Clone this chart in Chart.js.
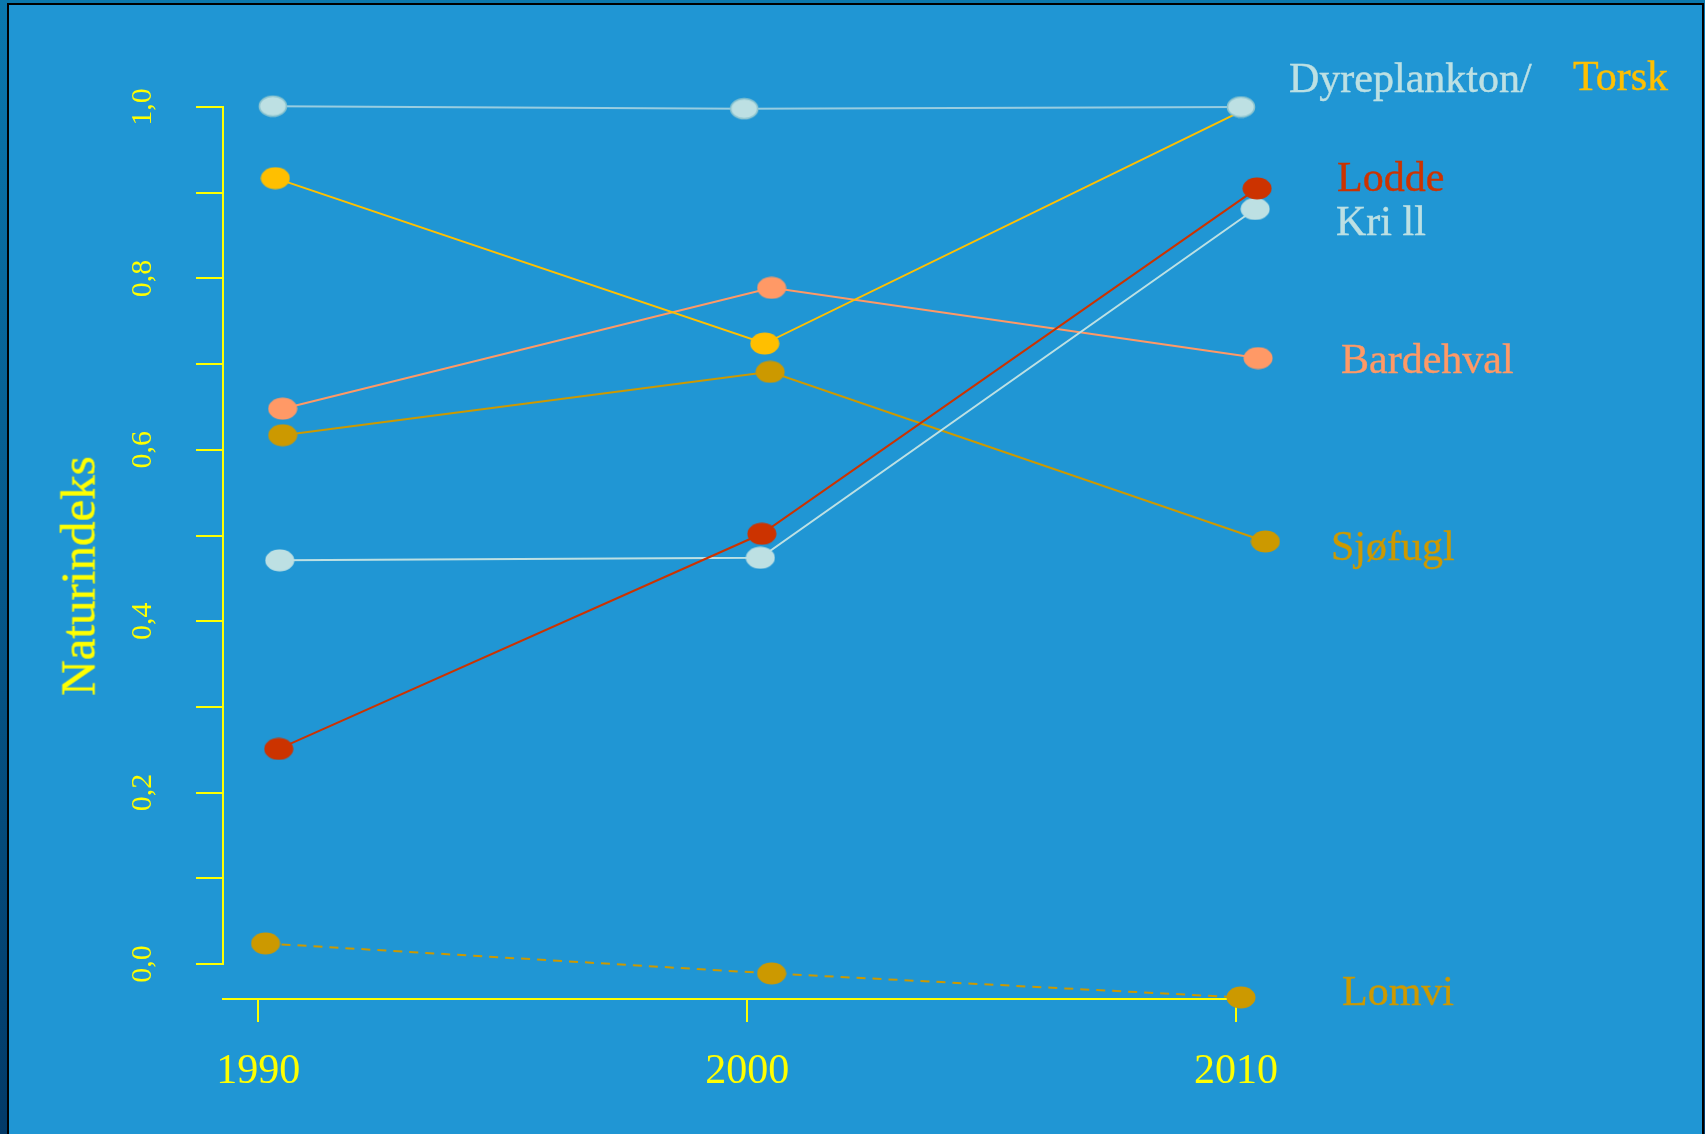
<!DOCTYPE html>
<html>
<head>
<meta charset="utf-8">
<script src="https://cdn.jsdelivr.net/npm/chart.js@4.4.1/dist/chart.umd.min.js"></script>
<style>
  html, body { margin: 0; padding: 0; width: 1705px; height: 1134px; overflow: hidden;
    background: linear-gradient(#0a78ae, #023a68); }
  #panel { position: absolute; left: 7px; top: 3px; width: 1693px; height: 1140px;
    border: 2px solid #000; border-bottom: none; background: #2096d4; }
  #c { position: absolute; left: 0; top: 0; }
  .lbl { position: absolute; font-family: "Liberation Serif", serif; font-size: 42px;
    line-height: 42px; white-space: pre; -webkit-text-stroke: 0.4px currentColor; }
  #ytitle { position: absolute; left: 78px; top: 576px; font-family: "Liberation Serif", serif;
    font-size: 49px; line-height: 49px; color: #ffff00; white-space: nowrap;
    -webkit-text-stroke: 0.4px currentColor;
    transform: translate(-50%, -50%) rotate(-90deg); }
</style>
</head>
<body>
<div id="panel"></div>
<canvas id="c" width="1705" height="1134"></canvas>
<div id="ytitle">Naturindeks</div>
<div class="lbl" style="left:1289px; top:57px; color:#bde0e3;">Dyreplankton/</div>
<div class="lbl" style="left:1573px; top:55px; color:#ffc000;">Torsk</div>
<div class="lbl" style="left:1337px; top:156px; color:#cc3300;">Lodde</div>
<div class="lbl" style="left:1336px; top:200px; color:#bde0e3;">Kri ll</div>
<div class="lbl" style="left:1341px; top:338px; color:#ff9966;">Bardehval</div>
<div class="lbl" style="left:1331px; top:525px; color:#cc9900;">Sjøfugl</div>
<div class="lbl" style="left:1342px; top:970px; color:#cc9900;">Lomvi</div>
<script>
// ---- data ----
const years = [1990, 2000, 2010];                       // x tick values
const xTickLabels = ['1990', '2000', '2010'];
const yTickValues = [0, 0.1, 0.2, 0.3, 0.4, 0.5, 0.6, 0.7, 0.8, 0.9, 1.0];
const yTickLabels = ['0,0', '', '0,2', '', '0,4', '', '0,6', '', '0,8', '', '1,0'];
const seriesNames = ['Dyreplankton', 'Torsk', 'Lodde', 'Krill', 'Bardehval', 'Sjøfugl', 'Lomvi'];

const dyreplanktonX = [1990.3, 1999.94, 2010.1];
const dyreplanktonY = [1.001, 0.998, 1.0];
const torskX = [1990.35, 2000.36, 2010.1];
const torskY = [0.917, 0.724, 0.995];
const loddeX = [1990.42, 2000.3, 2010.43];
const loddeY = [0.251, 0.502, 0.905];
const krillX = [1990.44, 2000.27, 2010.39];
const krillY = [0.471, 0.474, 0.881];
const bardehvalX = [1990.5, 2000.5, 2010.45];
const bardehvalY = [0.648, 0.789, 0.707];
const sjofuglX = [1990.5, 2000.47, 2010.6];
const sjofuglY = [0.617, 0.691, 0.493];
const lomviX = [1990.15, 2000.5, 2010.1];
const lomviY = [0.024, -0.011, -0.039];

// ---- styling ----
const YELLOW = '#ffff00';
function ellipse(fill, stroke) {
  const c = document.createElement('canvas');
  c.width = 30; c.height = 23;
  const g = c.getContext('2d');
  g.beginPath();
  g.ellipse(15, 11.5, stroke ? 13.5 : 14.5, stroke ? 10 : 11, 0, 0, Math.PI * 2);
  g.fillStyle = fill; g.fill();
  if (stroke) { g.lineWidth = 1.6; g.strokeStyle = stroke; g.stroke(); }
  return c;
}
const zip = (xs, ys) => xs.map((x, i) => ({ x: x, y: ys[i] }));

function series(name, xs, ys, line, dot, extra) {
  return Object.assign({
    label: name,
    data: zip(xs, ys),
    showLine: true,
    borderColor: line,
    borderWidth: 2,
    pointStyle: dot,
    pointRadius: 12,
    pointHoverRadius: 12,
    clip: false,
    tension: 0
  }, extra || {});
}

const datasets = [
  series(seriesNames[0], dyreplanktonX, dyreplanktonY, '#98cde0', ellipse('#bde0e3', '#8cc4cf')),
  series(seriesNames[1], torskX, torskY, '#ffc000', ellipse('#ffbf00'), { pointRadius: [12, 12, 0] }),
  series(seriesNames[2], loddeX, loddeY, '#cc3300', ellipse('#cc3300')),
  series(seriesNames[3], krillX, krillY, '#bde0e3', ellipse('#bde0e3')),
  series(seriesNames[4], bardehvalX, bardehvalY, '#ff9966', ellipse('#ff9966')),
  series(seriesNames[5], sjofuglX, sjofuglY, '#cc9900', ellipse('#cc9900')),
  series(seriesNames[6], lomviX, lomviY, '#cc9900', ellipse('#cc9900'), { borderDash: [9, 7] })
];

// let points that sit just outside the axis frame still be drawn
const freeDraw = {
  id: 'freeDraw',
  beforeDatasetsDraw(chart) {
    chart._savedArea = chart.chartArea;
    chart.chartArea = { left: 0, top: 0, right: chart.width, bottom: chart.height,
                        width: chart.width, height: chart.height };
  },
  afterDatasetsDraw(chart) {
    chart.chartArea = chart._savedArea;
  }
};

new Chart(document.getElementById('c'), {
  type: 'scatter',
  data: { datasets: datasets },
  plugins: [freeDraw],
  options: {
    responsive: false,
    animation: false,
    events: [],
    layout: { padding: { left: 0, top: 107, right: 465, bottom: 170 } },
    plugins: { legend: { display: false }, tooltip: { enabled: false } },
    scales: {
      x: {
        type: 'linear',
        min: 1989.28,
        max: 2010.08,
        position: { y: -0.041 },
        afterBuildTicks: s => { s.ticks = years.map(v => ({ value: v })); },
        ticks: {
          autoSkip: false,
          color: YELLOW,
          padding: 26,
          maxRotation: 0,
          font: { family: 'Liberation Serif', size: 42 },
          callback: (v) => xTickLabels[years.indexOf(v)]
        },
        grid: { display: true, drawOnChartArea: false, drawTicks: true, tickLength: 22, color: YELLOW, lineWidth: 2 },
        border: { display: true, color: YELLOW, width: 2 }
      },
      y: {
        type: 'linear',
        min: 0,
        max: 1,
        position: 'left',
        afterFit: s => { s.width = 223; },
        afterBuildTicks: s => { s.ticks = yTickValues.map(v => ({ value: v })); },
        ticks: {
          autoSkip: false,
          color: YELLOW,
          minRotation: 90,
          maxRotation: 90,
          crossAlign: 'center',
          padding: 34,
          font: { family: 'Liberation Serif', size: 30 },
          callback: (v) => yTickLabels[yTickValues.findIndex(t => Math.abs(t - v) < 1e-6)]
        },
        grid: { display: true, drawOnChartArea: false, drawTicks: true, tickLength: 27, color: YELLOW, lineWidth: 2 },
        border: { display: true, color: YELLOW, width: 2 }
      }
    }
  }
});
</script>
</body>
</html>
